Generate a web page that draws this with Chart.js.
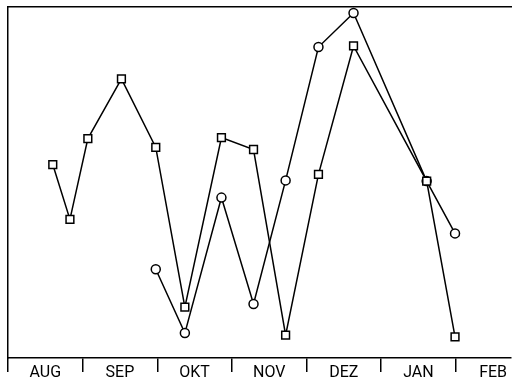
<!DOCTYPE html>
<html>
<head>
<meta charset="utf-8">
<script src="https://cdn.jsdelivr.net/npm/chart.js@4/dist/chart.umd.min.js"></script>
<style>
  html, body { margin: 0; padding: 0; background: #fff; }
  #wrap { width: 518px; height: 382px; }
</style>
</head>
<body>
<div id="wrap"><canvas id="myChart"></canvas></div>
<script>
// month names, one per month interval on the x axis (0 = start of AUG)
var months = ['AUG', 'SEP', 'OKT', 'NOV', 'DEZ', 'JAN', 'FEB'];

// series drawn with square markers (x in months since 1 Aug)
var squareX = [0.60, 0.83, 1.07, 1.52, 1.98, 2.37, 2.86, 3.29, 3.72, 4.16, 4.63, 5.61, 5.99];
var squareY = [55.1, 39.5, 62.5, 79.5, 60.0, 14.5, 62.8, 59.4, 6.5, 52.3, 88.9, 50.4, 6.0];

// series drawn with circle markers
var circleX = [1.98, 2.37, 2.86, 3.29, 3.72, 4.16, 4.63, 5.61, 5.99];
var circleY = [25.3, 7.1, 45.7, 15.4, 50.6, 88.6, 98.3, 50.4, 35.5];

function toPoints(xs, ys) {
    return xs.map(function (x, i) { return { x: x, y: ys[i] }; });
}

function renderChart() {
    var ctx = 'myChart';
    var myChart = new Chart(ctx, {
        type: 'line',
        data: {
            datasets: [{
                label: 'squares',
                data: toPoints(squareX, squareY),
                borderColor: '#000',
                borderWidth: 1.5,
                pointStyle: 'rect',
                pointRadius: 5.5,
                pointBorderWidth: 1.5,
                pointBorderColor: '#000',
                pointBackgroundColor: '#fff',
                tension: 0,
                clip: false
            }, {
                label: 'circles',
                data: toPoints(circleX, circleY),
                borderColor: '#000',
                borderWidth: 1.5,
                pointStyle: 'circle',
                pointRadius: 4.5,
                pointBorderWidth: 1.5,
                pointBorderColor: '#000',
                pointBackgroundColor: '#fff',
                tension: 0,
                clip: false
            }]
        },
        options: {
            responsive: true,
            maintainAspectRatio: false,
            animation: false,
            layout: { padding: { left: 8, top: 6, right: 0, bottom: 0 } },
            plugins: { legend: { display: false }, tooltip: { enabled: false } },
            scales: {
                x: {
                    type: 'linear',
                    min: 0,
                    max: 6.74,
                    afterBuildTicks: function (axis) {
                        var t = [];
                        for (var v = 0; v <= 6.5; v += 0.5) t.push({ value: v });
                        axis.ticks = t;
                    },
                    afterFit: function (axis) { axis.height = 24; },
                    ticks: {
                        autoSkip: false,
                        maxRotation: 0,
                        padding: -9,
                        color: '#000',
                        font: { family: 'Roboto', size: 16 },
                        callback: function (v) {
                            return (v % 1 === 0.5) ? months[Math.floor(v)] : '';
                        }
                    },
                    grid: {
                        drawOnChartArea: false,
                        drawTicks: true,
                        tickLength: 14,
                        lineWidth: 1.5,
                        color: function (c) {
                            return (c.tick && c.tick.value % 1 === 0) ? '#000' : 'rgba(0,0,0,0)';
                        }
                    },
                    border: { display: true, color: '#000', width: 1.5 }
                },
                top: {
                    type: 'linear',
                    position: 'top',
                    min: 0,
                    max: 6.74,
                    afterFit: function (axis) { axis.height = 0; },
                    ticks: { display: false },
                    grid: { display: false },
                    border: { display: true, color: '#000', width: 1.5 }
                },
                y: {
                    min: 0,
                    max: 100,
                    afterFit: function (axis) { axis.width = 0; },
                    ticks: { display: false },
                    grid: { display: false },
                    border: { display: true, color: '#000', width: 1.5 }
                }
            }
        }
    });
}

window.onload = function () {
    renderChart();
};
</script>
</body>
</html>
